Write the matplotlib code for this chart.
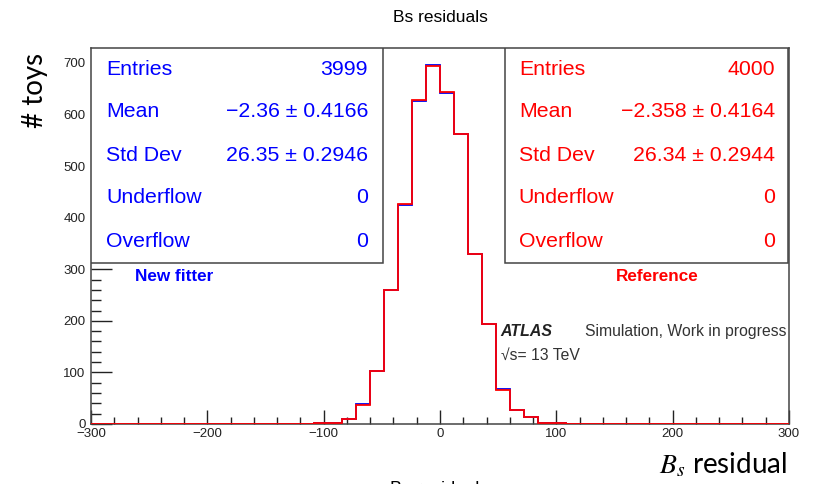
import numpy as np
import matplotlib.pyplot as plt
from matplotlib.patches import Rectangle
from matplotlib.ticker import MultipleLocator

plt.rcParams['font.family'] = ['Liberation Sans', 'DejaVu Sans']
plt.rcParams['mathtext.fontset'] = 'stix'

# histogram binning: 50 bins from -300 to 300
x_min, x_max, n_bins = -300, 300, 50
first_bin = 16  # bin starting at -108

# counts in the non-empty bins (-108 ... 108)
new_fitter_counts = [1, 2, 10, 39, 103, 260, 424, 626, 696, 641, 563, 329, 194, 67, 28, 13, 2, 1]
reference_counts = [1, 2, 10, 37, 103, 260, 427, 628, 695, 643, 562, 330, 193, 66, 27, 13, 2, 1]

stat_labels = ['Entries', 'Mean', 'Std Dev', 'Underflow', 'Overflow']
new_fitter_stats = ['3999', '\u22122.36 \u00b1 0.4166', '26.35 \u00b1 0.2946', '0', '0']
reference_stats = ['4000', '\u22122.358 \u00b1 0.4164', '26.34 \u00b1 0.2944', '0', '0']


def full_counts(counts):
    arr = np.zeros(n_bins)
    arr[first_bin:first_bin + len(counts)] = counts
    return arr


edges = np.linspace(x_min, x_max, n_bins + 1)

fig = plt.figure(figsize=(8.25, 4.84), dpi=100)
ax = fig.add_axes([91 / 825, 1 - 424 / 484, 698 / 825, 376 / 484])

ax.stairs(full_counts(new_fitter_counts), edges, color='#0000ee', lw=1.3, zorder=2)
ax.stairs(full_counts(reference_counts), edges, color='#ff0000', lw=1.3, zorder=3)

ax.set_xlim(x_min, x_max)
ax.set_ylim(0, 729)
ax.xaxis.set_major_locator(MultipleLocator(100))
ax.xaxis.set_minor_locator(MultipleLocator(20))
ax.yaxis.set_major_locator(MultipleLocator(100))
ax.yaxis.set_minor_locator(MultipleLocator(20))
ax.tick_params(direction='in', which='both', labelsize=9.5, colors='#222222', width=1)
ax.tick_params(axis='y', which='major', length=15, pad=4)
ax.tick_params(axis='y', which='minor', length=7)
ax.tick_params(axis='x', which='major', length=10, pad=3)
ax.tick_params(axis='x', which='minor', length=5)
for s in ax.spines.values():
    s.set_color('#444444')
    s.set_linewidth(1.1)
ax.set_xticks([-300, -200, -100, 0, 100, 200, 300])
ax.set_xticklabels(['\u2212300', '\u2212200', '\u2212100', '0', '100', '200', '300'])

# stat boxes
row_y = [0.9415, 0.8298, 0.7154, 0.6011, 0.4867]
boxes = [
    (0.0, 0.4183, 0.0215, 0.397, new_fitter_stats, 'blue'),
    (0.593, 0.9986, 0.613, 0.98, reference_stats, 'red'),
]
for x0, x1, lx, vx, vals, col in boxes:
    ax.add_patch(Rectangle((x0, 0.428), x1 - x0, 1 - 0.428, transform=ax.transAxes,
                           facecolor='white', edgecolor='#444444', lw=1.1, zorder=5))
    for yy, lab, val in zip(row_y, stat_labels, vals):
        ax.text(lx, yy, lab, transform=ax.transAxes, color=col, fontsize=15.3,
                ha='left', va='center', zorder=6)
        ax.text(vx, yy, val, transform=ax.transAxes, color=col, fontsize=15.3,
                ha='right', va='center', zorder=6)

ax.text(0.119, 0.391, 'New fitter', transform=ax.transAxes, color='blue',
        fontsize=12.3, fontweight='bold', ha='center', va='center')
ax.text(0.811, 0.391, 'Reference', transform=ax.transAxes, color='red',
        fontsize=12.3, fontweight='bold', ha='center', va='center')
ax.text(0.587, 0.2447, 'ATLAS', transform=ax.transAxes, color='#222222',
        fontsize=11.4, fontweight='bold', fontstyle='italic', ha='left', va='center')
ax.text(0.708, 0.2447, 'Simulation, Work in progress', transform=ax.transAxes,
        color='#333333', fontsize=11.3, ha='left', va='center')
ax.text(0.587, 0.1835, '\u221as= 13 TeV', transform=ax.transAxes,
        color='#333333', fontsize=11.3, ha='left', va='center')

fig.text(440 / 825, 1 - 17 / 484, 'Bs residuals', fontsize=12.5, ha='center', va='center')
fig.text(35 / 825, 1 - 90 / 484, '# toys', fontsize=20, rotation=90, family='Lato',
         ha='center', va='center')
fig.text(787 / 825, 1 - 465 / 484, '$B_s$ residual', fontsize=20, family='Lato',
         ha='right', va='center')
fig.text(435 / 825, 1 - 481 / 484, 'Bs residual', fontsize=13, ha='center', va='top')

fig.savefig('out.png', dpi=100)
